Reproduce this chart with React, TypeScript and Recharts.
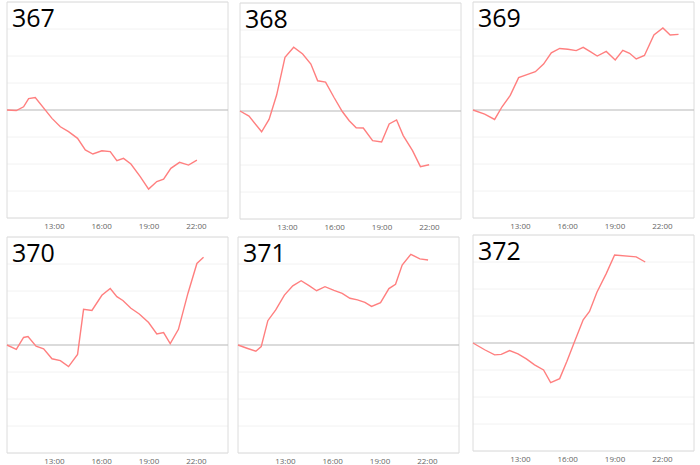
import React from "react";
import { LineChart, Line, XAxis, YAxis, CartesianGrid, ReferenceLine, ReferenceArea } from "recharts";

// hours of day (decimal) and values
const T367 = [10, 10.59, 11.05, 11.37, 11.79, 12.85, 13.38, 13.9, 14.47, 14.96, 15.44, 16.01, 16.54, 16.96, 17.38, 17.85, 18.44, 18.97, 19.49, 19.92, 20.38, 20.93, 21.5, 22.03];
const V367 = [0, -0.02, 0.12, 0.42, 0.46, -0.31, -0.62, -0.8, -1.05, -1.48, -1.63, -1.51, -1.54, -1.88, -1.79, -2.0, -2.47, -2.93, -2.65, -2.56, -2.16, -1.94, -2.04, -1.86];

const T368 = [10, 10.57, 11.37, 11.84, 12.32, 12.85, 13.4, 13.97, 14.49, 14.92, 15.42, 15.95, 16.48, 16.92, 17.36, 17.81, 18.4, 18.97, 19.45, 19.92, 20.34, 20.93, 21.43, 21.98];
const V368 = [0, -0.19, -0.77, -0.31, 0.59, 1.99, 2.36, 2.11, 1.74, 1.12, 1.07, 0.51, -0.02, -0.36, -0.62, -0.63, -1.1, -1.15, -0.48, -0.33, -0.91, -1.47, -2.06, -1.99];

const T369 = [10, 10.74, 11.37, 11.84, 12.36, 12.89, 13.42, 13.95, 14.47, 14.96, 15.49, 16.01, 16.54, 16.98, 17.43, 17.87, 18.44, 19.01, 19.49, 19.92, 20.34, 20.86, 21.46, 22.03, 22.49, 23.02];
const V369 = [0, -0.15, -0.35, 0.12, 0.54, 1.2, 1.31, 1.42, 1.7, 2.12, 2.28, 2.25, 2.2, 2.32, 2.16, 2.0, 2.17, 1.85, 2.21, 2.1, 1.89, 2.02, 2.78, 3.04, 2.78, 2.8];

const T370 = [10, 10.59, 11.05, 11.33, 11.84, 12.32, 12.85, 13.38, 13.9, 14.47, 14.85, 15.38, 16.01, 16.54, 16.96, 17.34, 17.85, 18.38, 18.97, 19.49, 19.92, 20.34, 20.86, 21.46, 22.03, 22.45];
const V370 = [0, -0.16, 0.28, 0.31, -0.04, -0.14, -0.51, -0.58, -0.8, -0.35, 1.32, 1.28, 1.84, 2.09, 1.79, 1.65, 1.36, 1.15, 0.83, 0.41, 0.46, 0.05, 0.58, 1.91, 3.02, 3.25];

const T371 = [10, 10.57, 11.13, 11.47, 11.89, 12.39, 12.94, 13.47, 14.0, 14.5, 14.98, 15.51, 16.08, 16.6, 17.09, 17.57, 18.04, 18.46, 19.03, 19.56, 19.98, 20.4, 20.95, 21.52, 22.04];
const V371 = [0, -0.12, -0.23, -0.06, 0.9, 1.3, 1.85, 2.19, 2.38, 2.2, 2.01, 2.16, 2.02, 1.91, 1.73, 1.67, 1.58, 1.43, 1.57, 2.09, 2.25, 2.96, 3.36, 3.19, 3.15];

const T372 = [10, 10.74, 11.37, 11.79, 12.32, 12.85, 13.38, 13.9, 14.47, 14.92, 15.49, 15.95, 16.43, 16.98, 17.38, 17.85, 18.44, 18.97, 20.34, 20.91];
const V372 = [0, -0.25, -0.44, -0.42, -0.28, -0.4, -0.59, -0.81, -1.0, -1.47, -1.32, -0.68, 0.05, 0.86, 1.17, 1.88, 2.57, 3.26, 3.19, 3.0];

const X_TICKS = [13, 16, 19, 22];
const Y_TICKS = [-4, -3, -2, -1, 0, 1, 2, 3, 4];

const PANELS = [
  { title: "367", t: T367, v: V367, left: 7, top: 2 },
  { title: "368", t: T368, v: V368, left: 240, top: 3 },
  { title: "369", t: T369, v: V369, left: 473, top: 2 },
  { title: "370", t: T370, v: V370, left: 7, top: 237 },
  { title: "371", t: T371, v: V371, left: 238, top: 237 },
  { title: "372", t: T372, v: V372, left: 473, top: 235 },
];

const PAD = 5;
const PLOT_W = 221;
const PLOT_H = 216;

function Panel({ title, t, v, left, top }: any) {
  const data = t.map((h: number, i: number) => ({ h, value: v[i] }));
  return (
    <div style={{ position: "absolute", left: left - PAD, top: top - PAD }}>
      <LineChart
        width={PLOT_W + PAD * 2}
        height={PLOT_H + PAD + 16}
        data={data}
        margin={{ top: PAD, right: PAD, bottom: 0, left: PAD }}
      >
        <CartesianGrid vertical={false} stroke="#f2f2f2" />
        <XAxis
          dataKey="h"
          type="number"
          domain={[10, 24]}
          ticks={X_TICKS}
          tickFormatter={(h: number) => `${h}:00`}
          axisLine={false}
          tickLine={false}
          tickSize={0}
          tickMargin={5}
          height={16}
          tick={{ fontSize: 8, fill: "#666", fontFamily: "Open Sans" }}
        />
        <YAxis hide domain={[-4, 4]} ticks={Y_TICKS} />
        <ReferenceArea x1={10} x2={24} y1={-4} y2={4} fill="none" stroke="#dcdcdc" strokeWidth={1} />
        <ReferenceLine y={0} stroke="#bdbdbd" strokeWidth={1} />
        <Line
          type="linear"
          dataKey="value"
          stroke="#ff7f7f"
          strokeWidth={1.4}
          dot={false}
          isAnimationActive={false}
        />
      </LineChart>
      <div
        style={{
          position: "absolute",
          left: PAD + 5,
          top: PAD + 3,
          fontFamily: "Open Sans",
          fontSize: 25,
          lineHeight: "25px",
          color: "#000",
        }}
      >
        {title}
      </div>
    </div>
  );
}

export default function App() {
  return (
    <div style={{ position: "absolute", left: 0, top: 0, width: 700, height: 465, background: "#fff" }}>
      {PANELS.map((p) => (
        <Panel key={p.title} {...p} />
      ))}
    </div>
  );
}
